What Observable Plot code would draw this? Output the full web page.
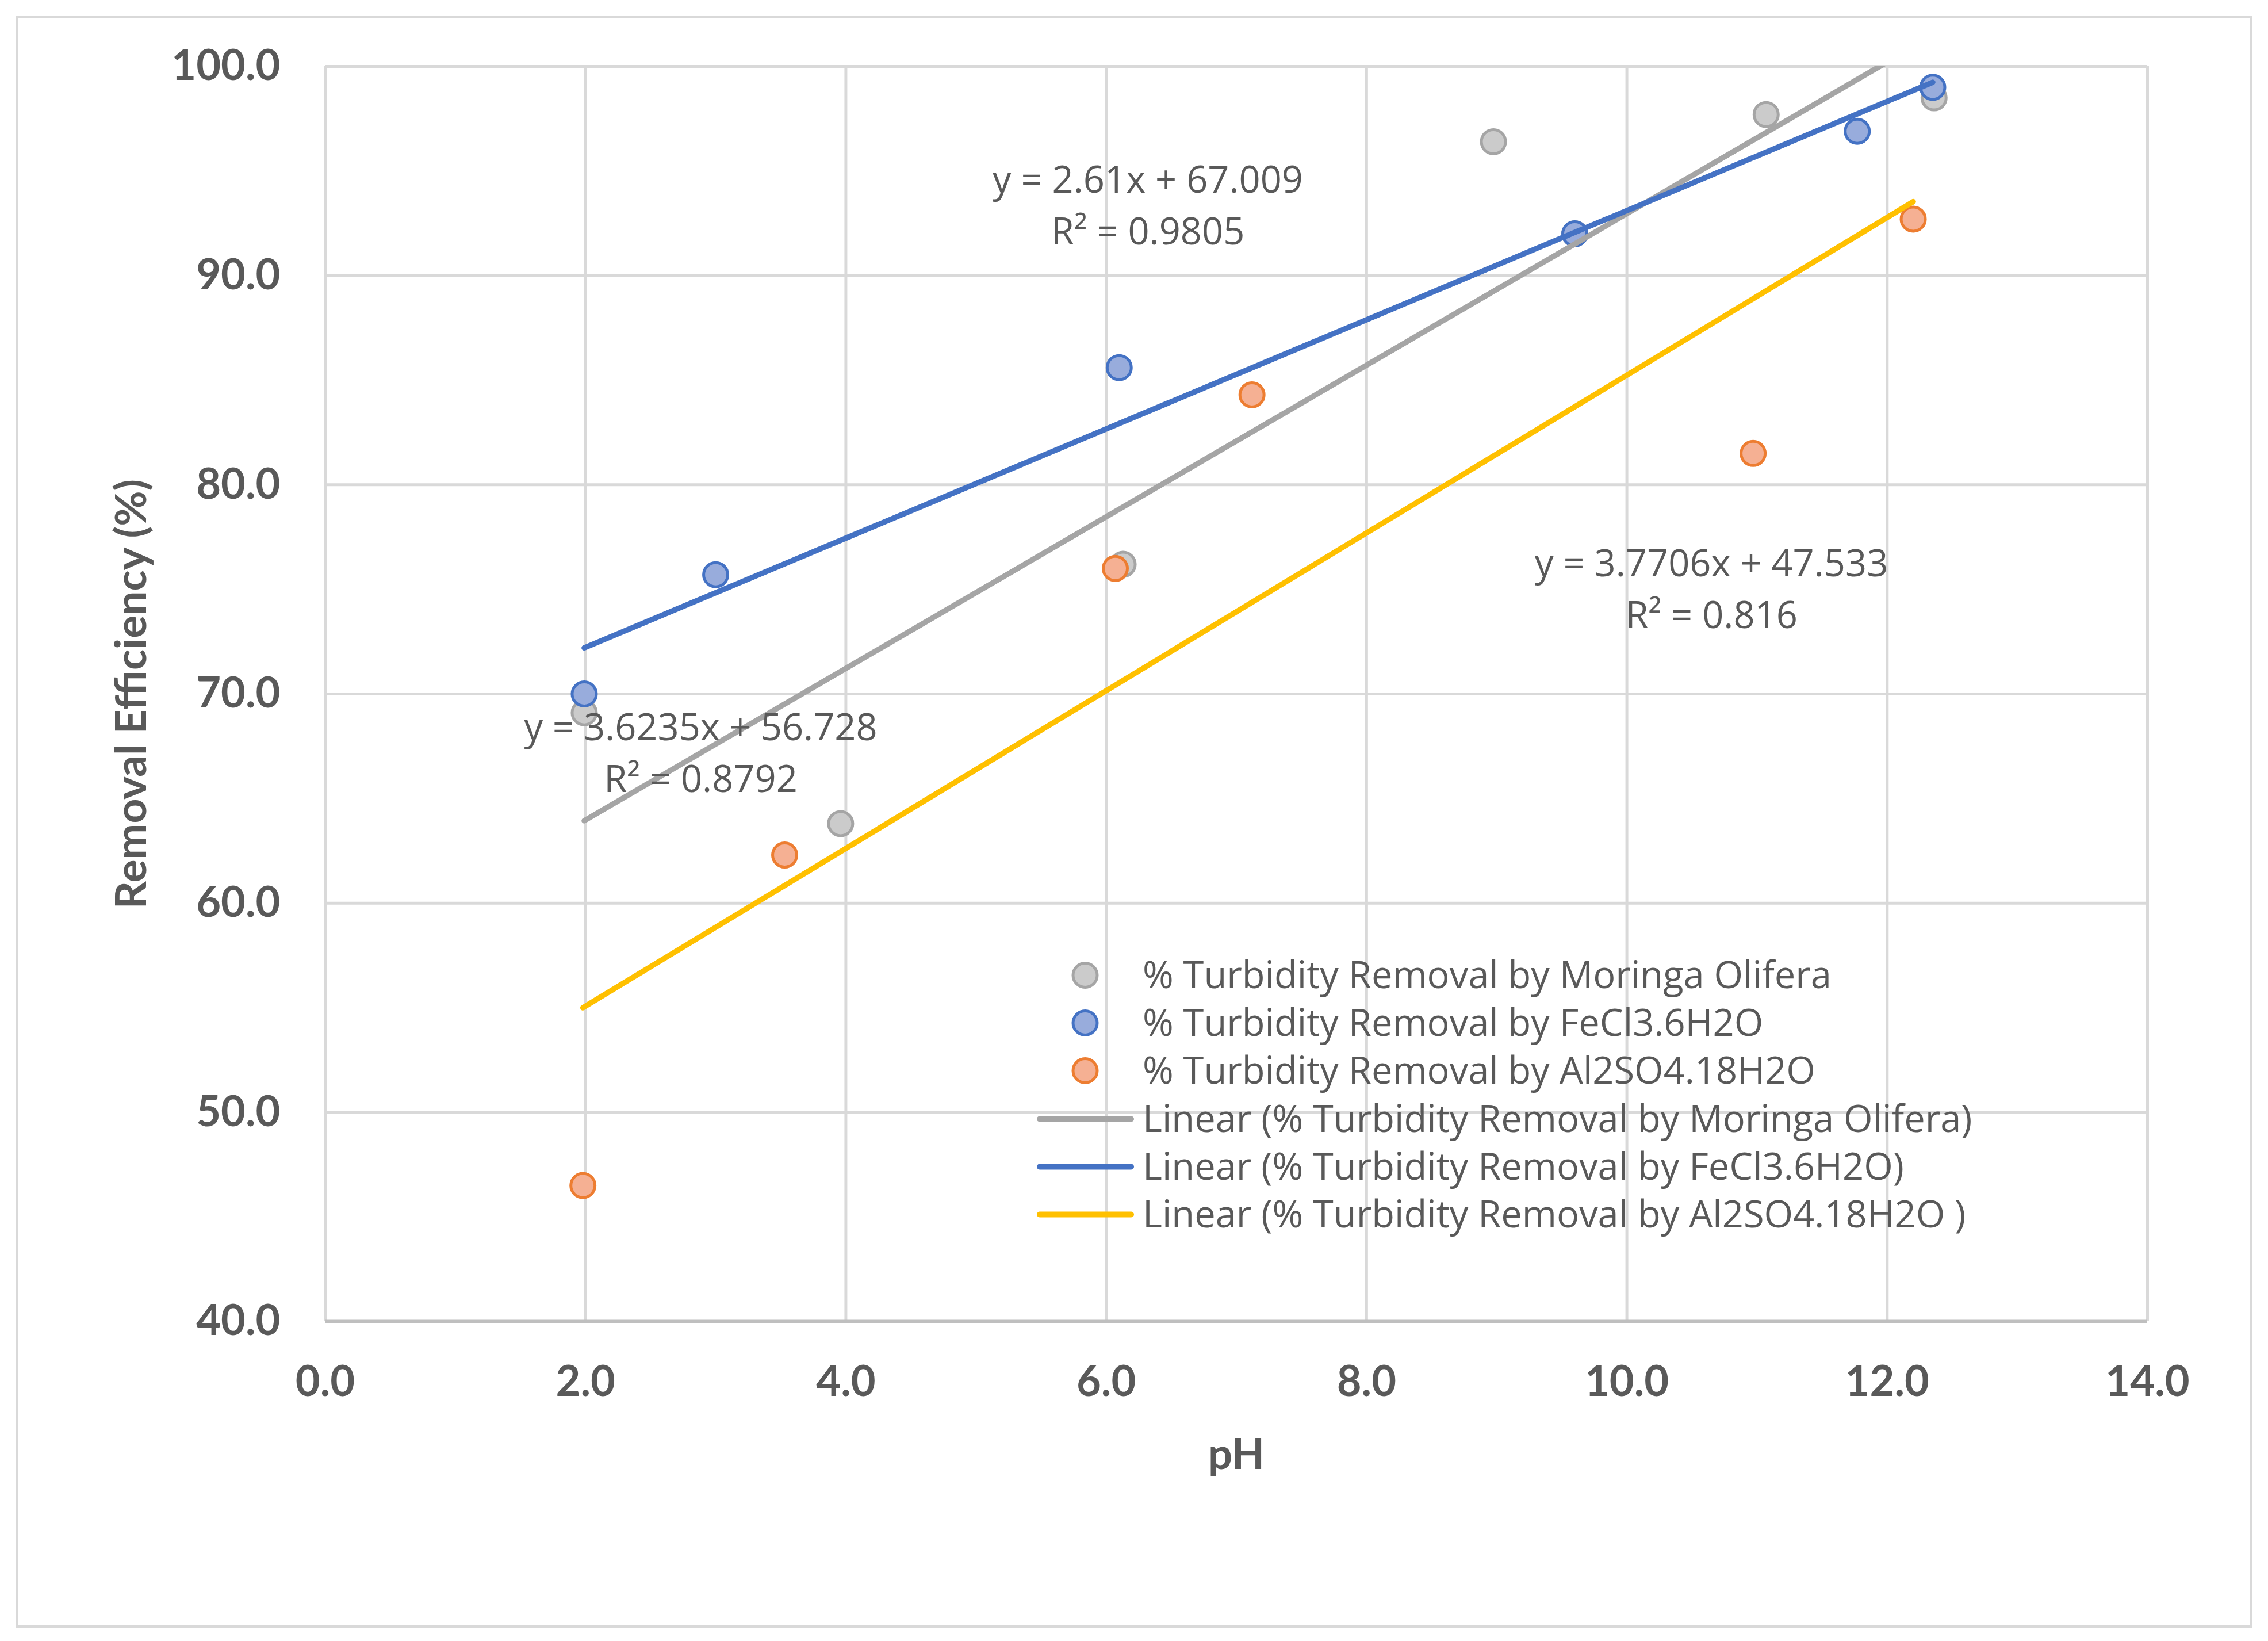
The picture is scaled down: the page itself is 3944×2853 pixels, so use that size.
<!DOCTYPE html>
<html>
<head>
<meta charset="utf-8">
<script src="https://cdn.jsdelivr.net/npm/d3@7"></script>
<script src="https://cdn.jsdelivr.net/npm/@observablehq/plot@0.6"></script>
<style>
html, body { margin: 0; padding: 0; background: #fff; }
#wrap { position: relative; width: 3944px; height: 2853px; overflow: hidden; background: #fff; }
#wrap svg.plot { position: absolute; left: 0; top: 0; }
#border { position: absolute; left: 27px; top: 27px; width: 3890px; height: 2803px; border: 5px solid #d9d9d9; box-sizing: border-box; pointer-events: none; }
#legend { position: absolute; left: 1803px; top: 1654px; font-family: "Open Sans", sans-serif; font-size: 65px; color: #595959; }
#legend .row { display: flex; align-items: center; height: 83.2px; white-space: nowrap; line-height: 1; }
#legend .row svg { width: 184px; height: 83px; flex: none; }
#legend .row span { position: relative; top: -2px; }
</style>
</head>
<body>
<div id="wrap"><div id="border"></div></div>
<script>
// ---- data ----
const seriesNames = [
  "% Turbidity Removal by Moringa Olifera",
  "% Turbidity Removal by FeCl3.6H2O",
  "% Turbidity Removal by Al2SO4.18H2O"
];
const trendNames = [
  "Linear (% Turbidity Removal by Moringa Olifera)",
  "Linear (% Turbidity Removal by FeCl3.6H2O)",
  "Linear (% Turbidity Removal by Al2SO4.18H2O )"
];
const moringaPH  = [1.99, 3.96, 6.13, 8.975, 9.6, 11.07, 12.36];
const moringaEff = [69.1, 63.8, 76.2, 96.4, 92.0, 97.7, 98.5];
const fePH  = [1.99, 3.0, 6.1, 9.6, 11.77, 12.35];
const feEff = [70.0, 75.7, 85.6, 92.0, 96.9, 99.0];
const alPH  = [1.98, 3.53, 6.07, 7.12, 10.97, 12.2];
const alEff = [46.5, 62.3, 76.0, 84.3, 81.5, 92.7];
const slopes = [3.6235, 2.61, 3.7706];
const intercepts = [56.728, 67.009, 47.533];
const rSquared = [0.8792, 0.9805, 0.816];
const xTicks = [0, 2, 4, 6, 8, 10, 12, 14];
const yTicks = [40, 50, 60, 70, 80, 90, 100];
// annotation anchor positions (data units) for the trendline equations
const eqPH  = [2.885, 6.32, 10.65];
const eqEff = [67.35, 93.51, 75.19];

// ---- styles ----
const dotFill   = ["#cbcbcb", "#98acdc", "#f5b093"];
const dotStroke = ["#a5a5a5", "#4472c4", "#ed7d31"];
const lineColor = ["#a5a5a5", "#4472c4", "#ffc000"];
const textColor = "#595959";

const xs = [moringaPH, fePH, alPH];
const ys = [moringaEff, feEff, alEff];
const points = xs.map((arr, i) => arr.map((x, j) => ({x, y: ys[i][j], s: i})));
const trends = xs.map((arr, i) => {
  const lo = d3.min(arr), hi = d3.max(arr);
  return [lo, hi].map(x => ({x, y: slopes[i] * x + intercepts[i]}));
});
const eqLabels = slopes.map((s, i) => ({
  x: eqPH[i], y: eqEff[i],
  text: `y = ${s}x + ${intercepts[i]}\nR² = ${rSquared[i]}`
}));

const chart = Plot.plot({
  width: 3944,
  height: 2853,
  marginLeft: 565,
  marginRight: 210,
  marginTop: 115,
  marginBottom: 556,
  x: {domain: [0, 14]},
  y: {domain: [40, 100]},
  style: {fontFamily: "Lato, sans-serif", background: "transparent", overflow: "visible"},
  marks: [
    Plot.gridX(xTicks, {stroke: "#d9d9d9", strokeWidth: 5, strokeOpacity: 1}),
    Plot.gridY(yTicks, {stroke: "#d9d9d9", strokeWidth: 5, strokeOpacity: 1}),
    Plot.ruleY([40], {stroke: "#bfbfbf", strokeWidth: 6}),
    Plot.axisX(xTicks, {tickSize: 0, tickPadding: 77, tickFormat: d => d.toFixed(1), fontSize: 74, fontWeight: "bold", fill: textColor, label: null}),
    Plot.axisY(yTicks, {tickSize: 0, tickPadding: 78, tickFormat: d => d.toFixed(1), fontSize: 74, fontWeight: "bold", fill: textColor, label: null}),
    Plot.text(["pH"], {frameAnchor: "bottom", lineAnchor: "bottom", dy: 256, fontSize: 74, fontWeight: "bold", fill: textColor}),
    Plot.text(["Removal Efficiency (%)"], {frameAnchor: "left", textAnchor: "middle", lineAnchor: "bottom", rotate: -90, dx: -312, fontSize: 75, fontWeight: "bold", fill: textColor}),
    ...points.map((pts, i) => Plot.dot(pts, {x: "x", y: "y", r: 21, fill: dotFill[i], stroke: dotStroke[i], strokeWidth: 5})),
    ...trends.map((t, i) => Plot.line(t, {x: "x", y: "y", stroke: lineColor[i], strokeWidth: 9.5, strokeLinecap: "round", clip: true})),
    Plot.text(eqLabels, {x: "x", y: "y", text: "text", fontFamily: "Open Sans, sans-serif", fontSize: 65, fill: textColor, lineHeight: 1.385, textAnchor: "middle", lineAnchor: "middle"})
  ]
});
chart.classList.add("plot");
const wrap = document.getElementById("wrap");
wrap.insertBefore(chart, wrap.firstChild);

// ---- legend ----
const legend = d3.select(wrap).append("div").attr("id", "legend");
seriesNames.forEach((name, i) => {
  const row = legend.append("div").attr("class", "row");
  const svg = row.append("svg").attr("viewBox", "0 0 184 83");
  svg.append("circle").attr("cx", 84).attr("cy", 41.5).attr("r", 21)
    .attr("fill", dotFill[i]).attr("stroke", dotStroke[i]).attr("stroke-width", 5);
  row.append("span").text(name);
});
trendNames.forEach((name, i) => {
  const row = legend.append("div").attr("class", "row");
  const svg = row.append("svg").attr("viewBox", "0 0 184 83");
  svg.append("line").attr("x1", 5).attr("x2", 164).attr("y1", 41.5).attr("y2", 41.5)
    .attr("stroke", lineColor[i]).attr("stroke-width", 10).attr("stroke-linecap", "round");
  row.append("span").text(name);
});
</script>
</body>
</html>
